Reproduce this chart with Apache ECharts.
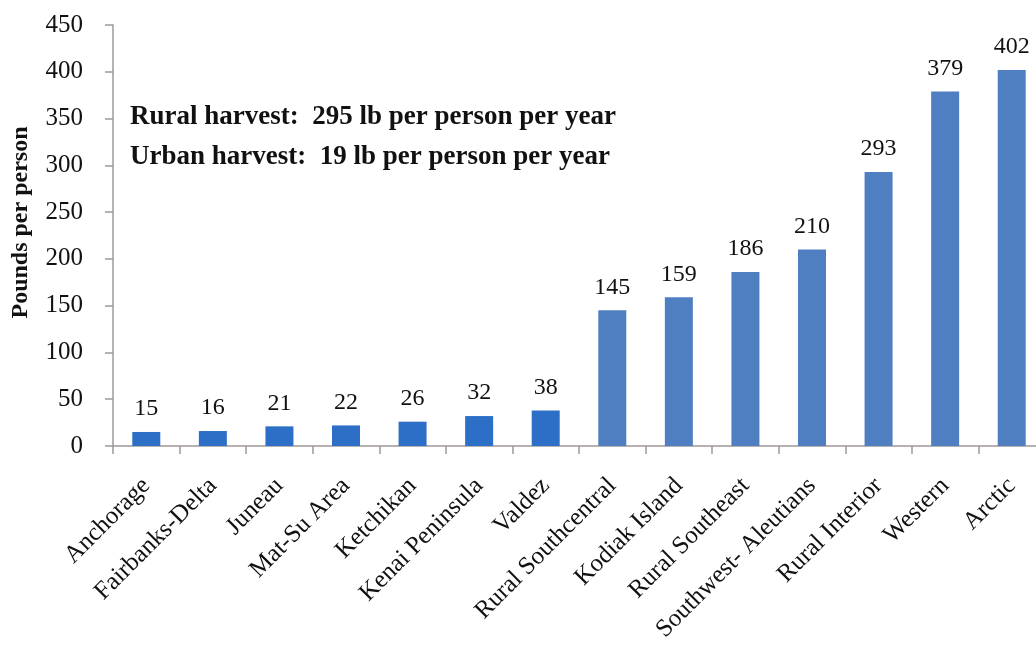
<!DOCTYPE html>
<html>
<head>
<meta charset="utf-8">
<script src="https://cdn.jsdelivr.net/npm/echarts@6/dist/echarts.min.js"></script>
<style>
  html, body { margin: 0; padding: 0; background: #fff; }
  #chart { width: 1036px; height: 656px; }
</style>
</head>
<body>
<div id="chart"></div>
<script>
const categories = ['Anchorage', 'Fairbanks-Delta', 'Juneau', 'Mat-Su Area', 'Ketchikan', 'Kenai Peninsula', 'Valdez',
  'Rural Southcentral', 'Kodiak Island', 'Rural Southeast', 'Southwest- Aleutians', 'Rural Interior', 'Western', 'Arctic'];
const values = [15, 16, 21, 22, 26, 32, 38, 145, 159, 186, 210, 293, 379, 402];
const urbanCount = 7; // first 7 are urban areas (darker blue)
const notes = ['Rural harvest:  295 lb per person per year', 'Urban harvest:  19 lb per person per year'];

const serif = '"Liberation Serif", "DejaVu Serif", serif';
const chart = echarts.init(document.getElementById('chart'));

chart.setOption({
  animation: false,
  grid: { left: 113, right: -9, top: 25, bottom: 210, outerBoundsMode: 'none' },
  graphic: notes.map((t, i) => ({
    type: 'text',
    left: 130,
    top: 104 + i * 40,
    style: { text: t, font: 'bold 27px ' + serif, fill: '#111' }
  })),
  xAxis: {
    type: 'category',
    data: categories,
    axisLine: { lineStyle: { color: '#a09898', width: 1.5 } },
    axisTick: { show: true, length: 8, lineStyle: { color: '#a09898', width: 1.5 } },
    axisLabel: {
      rotate: 45, interval: 0, color: '#111', fontFamily: serif, fontSize: 25, margin: 36
    }
  },
  yAxis: {
    type: 'value',
    min: 0, max: 450, interval: 50,
    name: 'Pounds per person',
    nameLocation: 'middle',
    nameGap: 80,
    nameTextStyle: { color: '#111', fontFamily: serif, fontSize: 24, fontWeight: 'bold', padding: [0, 0, 0, 26] },
    axisLine: { show: true, lineStyle: { color: '#a09898', width: 1.5 } },
    axisTick: { show: true, length: 8, lineStyle: { color: '#a09898', width: 1.5 } },
    axisLabel: { color: '#111', fontFamily: serif, fontSize: 25, margin: 30 },
    splitLine: { show: false }
  },
  series: [{
    type: 'bar',
    barWidth: 28,
    data: values.map((v, i) => ({
      value: v,
      itemStyle: { color: i < urbanCount ? '#2d6ec6' : '#4f7fc1' }
    })),
    label: {
      show: true, position: 'top', distance: 11,
      color: '#111', fontFamily: serif, fontSize: 24
    }
  }]
});
</script>
</body>
</html>
